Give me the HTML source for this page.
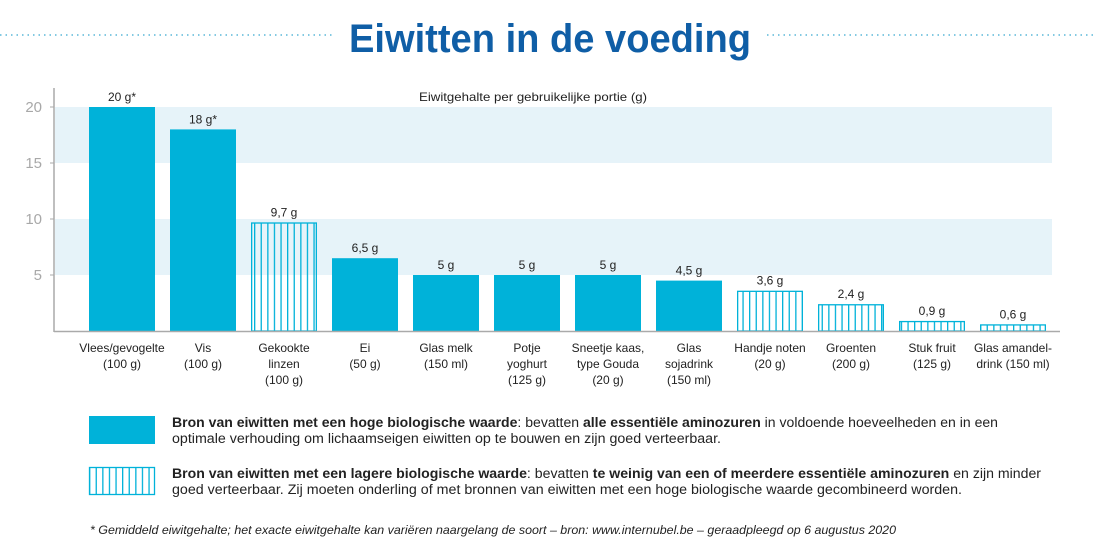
<!DOCTYPE html>
<html><head><meta charset="utf-8"><style>
body{margin:0;background:#fff;}
svg{display:block;font-family:"Liberation Sans",sans-serif;}
</style></head><body>
<svg id="chart" width="1097" height="553" viewBox="0 0 1097 553">
<defs>
<pattern id="hatch" patternUnits="userSpaceOnUse" width="6.6" height="10" x="89">
<rect x="0" y="0" width="1.3" height="10" fill="#00b2d9"/>
</pattern>
</defs>
<line x1="0" y1="35" x2="332" y2="35" stroke="#5ab7d8" stroke-width="1.5" stroke-dasharray="1.5 4"/>
<line x1="767" y1="35" x2="1097" y2="35" stroke="#5ab7d8" stroke-width="1.5" stroke-dasharray="1.5 4"/>
<text x="550" y="52" text-anchor="middle" font-size="40" font-weight="bold" fill="#0f5ea6" textLength="402" lengthAdjust="spacingAndGlyphs">Eiwitten in de voeding</text>
<text x="533" y="101" text-anchor="middle" font-size="12" fill="#222" textLength="228" lengthAdjust="spacingAndGlyphs">Eiwitgehalte per gebruikelijke portie (g)</text>
<g id="bands"></g>
<g id="ticks"></g>
<line x1="54" y1="88" x2="54" y2="332" stroke="#aaa" stroke-width="1.5"/>
<g id="bars"></g>
<line x1="54" y1="331.5" x2="1060" y2="331.5" stroke="#aaa" stroke-width="1.5"/>
<g id="labels"></g>

<rect x="89" y="416" width="66" height="28" fill="#00b2d9"/>
<rect x="89.5" y="467.5" width="65" height="27" fill="url(#hatch)" stroke="#00b2d9" stroke-width="1.3"/>
<g font-size="13.5" fill="#222">
<text x="172" y="427" textLength="826" lengthAdjust="spacingAndGlyphs"><tspan font-weight="bold">Bron van eiwitten met een hoge biologische waarde</tspan>: bevatten <tspan font-weight="bold">alle essentiële aminozuren</tspan> in voldoende hoeveelheden en in een</text>
<text x="172" y="443" textLength="549" lengthAdjust="spacingAndGlyphs">optimale verhouding om lichaamseigen eiwitten op te bouwen en zijn goed verteerbaar.</text>
</g>
<g font-size="13.5" fill="#222">
<text x="172" y="478" textLength="869" lengthAdjust="spacingAndGlyphs"><tspan font-weight="bold">Bron van eiwitten met een lagere biologische waarde</tspan>: bevatten <tspan font-weight="bold">te weinig van een of meerdere essentiële aminozuren</tspan> en zijn minder</text>
<text x="172" y="494" textLength="790" lengthAdjust="spacingAndGlyphs">goed verteerbaar. Zij moeten onderling of met bronnen van eiwitten met een hoge biologische waarde gecombineerd worden.</text>
</g>
<text x="90" y="534" font-size="12" font-style="italic" fill="#222" textLength="806" lengthAdjust="spacingAndGlyphs">* Gemiddeld eiwitgehalte; het exacte eiwitgehalte kan variëren naargelang de soort – bron: www.internubel.be – geraadpleegd op 6 augustus 2020</text>
</svg>
<script>
const categories=[["Vlees/gevogelte","(100 g)"],["Vis","(100 g)"],["Gekookte","linzen","(100 g)"],["Ei","(50 g)"],["Glas melk","(150 ml)"],["Potje","yoghurt","(125 g)"],["Sneetje kaas,","type Gouda","(20 g)"],["Glas","sojadrink","(150 ml)"],["Handje noten","(20 g)"],["Groenten","(200 g)"],["Stuk fruit","(125 g)"],["Glas amandel-","drink (150 ml)"]];
const values=[20,18,9.7,6.5,5,5,5,4.5,3.6,2.4,0.9,0.6];
const valueLabels=["20 g*","18 g*","9,7 g","6,5 g","5 g","5 g","5 g","4,5 g","3,6 g","2,4 g","0,9 g","0,6 g"];
const highQuality=[true,true,false,true,true,true,true,true,false,false,false,false];
const yTicks=[5,10,15,20];
const bandRanges=[[5,10],[15,20]];

const NS="http://www.w3.org/2000/svg";
const y0=331,pxPer=11.2;
function y(v){return y0-v*pxPer;}
function x(i){return 89+i*81;}
const barW=66;
function mk(tag,attrs,parent){const e=document.createElementNS(NS,tag);for(const k in attrs)e.setAttribute(k,attrs[k]);parent.appendChild(e);return e;}
const bands=document.getElementById('bands'),ticks=document.getElementById('ticks'),bars=document.getElementById('bars'),labels=document.getElementById('labels');
bandRanges.forEach(r=>{
 const b=mk('rect',{x:55,y:y(r[1]),width:997,height:y(r[0])-y(r[1]),fill:'#e6f3f9'},bands);
 
 
});
yTicks.forEach(t=>{
 const tx=mk('text',{x:42,y:y(t)+5,'text-anchor':'end','font-size':15,fill:'#a8a8a8'},ticks);
 tx.textContent=t;
 
 
 const tk=mk('line',{x1:50,x2:54,y1:y(t),y2:y(t),stroke:'#aaa','stroke-width':1},ticks);
 
 
});
values.forEach((v,i)=>{
 let r;
 if(highQuality[i]){
  r=mk('rect',{x:x(i),y:y(v),width:barW,height:y0-y(v),fill:'#00b2d9'},bars);
 }else{
  r=mk('rect',{x:x(i)+0.65,y:y(v)+0.65,width:barW-1.3,height:y0-y(v)-0.65,fill:'url(#hatch)',stroke:'#00b2d9','stroke-width':1.3},bars);
 }
 
 
 const vl=mk('text',{x:x(i)+barW/2,y:y(v)-6,'text-anchor':'middle','font-size':12,fill:'#222'},labels);
 vl.textContent=valueLabels[i];
 
 
 const cl=mk('text',{x:x(i)+barW/2,'text-anchor':'middle','font-size':12,fill:'#222'},labels);
 
 
 categories[i].forEach((s,j)=>{const t=mk('tspan',{x:x(i)+barW/2,y:352+j*16},cl);t.textContent=s;});
});
</script>
</body></html>
